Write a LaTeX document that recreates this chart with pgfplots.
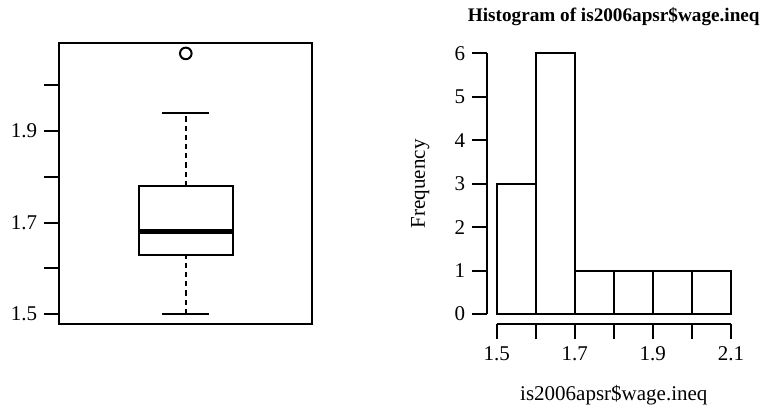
\documentclass[border=0pt]{standalone}
\usepackage{fontspec}
\setmainfont{Liberation Serif}
\usepackage{pgfplots}
\pgfplotsset{compat=1.18}

\begin{document}
\begin{tikzpicture}
% 1 px of the reference = 0.5pt
\useasboundingbox (0,0) rectangle (380.5pt,-205pt);

\pgfplotsset{
  rstyle/.style={
    scale only axis,
    width=126.5pt, height=140.7pt,
    font=\fontsize{10.5}{12}\selectfont,
    /pgf/number format/assume math mode=true,
    major tick length=7.5pt,
    tick align=outside,
    tick style={black, line width=1pt},
    axis line style={line width=1pt},
    clip=false,
  },
}

% left panel: box plot
\begin{axis}[rstyle,
  at={(29.65pt,-162.2pt)}, anchor=south west,
  xmin=0.46, xmax=1.54, ymin=1.4772, ymax=2.0928,
  xtick=\empty,
  ytick={1.5,1.6,1.7,1.8,1.9,2.0},
  yticklabels={1.5,,1.7,,1.9,},
  ytick pos=left,
]
% whiskers
\addplot[black, line width=1pt, dash pattern=on 2.6pt off 2pt] coordinates {(1,1.5) (1,1.63)};
\addplot[black, line width=1pt, dash pattern=on 2.6pt off 2pt] coordinates {(1,1.78) (1,1.94)};
% staples
\addplot[black, line width=1pt] coordinates {(0.9,1.5) (1.1,1.5)};
\addplot[black, line width=1pt] coordinates {(0.9,1.94) (1.1,1.94)};
% box
\addplot[black, line width=1pt, fill=white] coordinates {(0.8,1.63) (1.2,1.63) (1.2,1.78) (0.8,1.78)} -- cycle;
% median
\addplot[black, line width=2.2pt] coordinates {(0.8,1.68) (1.2,1.68)};
% outlier
\addplot[black, only marks, mark=o, mark size=2.9pt, line width=1pt] coordinates {(1,2.07)};
\end{axis}

% right panel: histogram
\begin{axis}[rstyle,
  at={(243.65pt,-162.2pt)}, anchor=south west,
  xmin=1.476, xmax=2.124, ymin=-0.24, ymax=6.24,
  axis x line*=bottom, axis y line*=left,
  axis line style={draw=none},
  xtick={1.5,1.6,1.7,1.8,1.9,2.0,2.1},
  xticklabels={1.5,,1.7,,1.9,,2.1},
  ytick={0,1,2,3,4,5,6},
  title={Histogram of is2006apsr\$wage.ineq},
  title style={font=\fontsize{9.6}{11}\selectfont\bfseries,
    at={(axis description cs:0.5,1)}, anchor=base, yshift=4.5pt},
  xlabel={is2006apsr\$wage.ineq},
  xlabel style={at={(axis description cs:0.5,-0.2687)}, anchor=base},
  ylabel={Frequency},
  ylabel style={at={(axis description cs:-0.2467,0.5)}, anchor=base},
]
\addplot[ybar interval, fill=white, draw=black, line width=1pt] coordinates {
  (1.5,3) (1.6,6) (1.7,1) (1.8,1) (1.9,1) (2.0,1) (2.1,1)
};
% detached R-style axis lines
\draw[line width=1pt] (axis cs:1.476,0) -- (axis cs:1.476,6);
\draw[line width=1pt] (axis cs:1.5,-0.24) -- (axis cs:2.1,-0.24);
\end{axis}
\end{tikzpicture}
\end{document}
